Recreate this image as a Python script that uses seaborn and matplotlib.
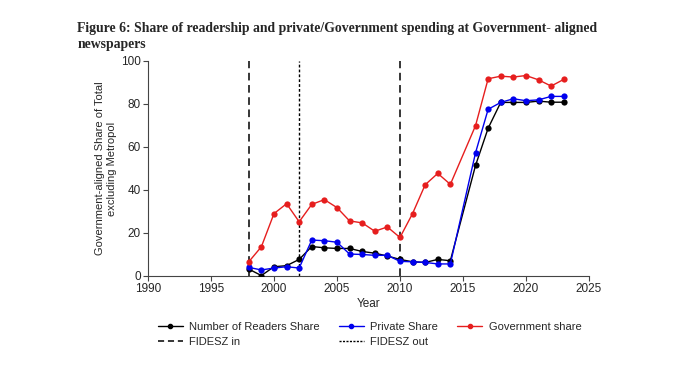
import matplotlib
matplotlib.use("Agg")
import matplotlib.pyplot as plt
from matplotlib.lines import Line2D
import seaborn as sns
import pandas as pd

# =============================================================================
# data (read off the figure; no 2015 observation)
# =============================================================================
years = [1998, 1999, 2000, 2001, 2002, 2003, 2004, 2005, 2006, 2007, 2008,
         2009, 2010, 2011, 2012, 2013, 2014, 2016, 2017, 2018, 2019, 2020,
         2021, 2022, 2023]
readers_share = [3.2, 0.2, 4.3, 4.8, 7.7, 13.7, 13.1, 12.8, 12.8, 11.4, 10.6,
                 9.3, 7.7, 6.6, 6.3, 7.7, 7.1, 51.4, 68.7, 80.7, 80.7, 80.7,
                 81.3, 80.8, 80.8]
private_share = [4.0, 2.8, 3.7, 4.3, 3.7, 16.7, 16.4, 15.7, 10.2, 10.0, 9.6,
                 9.6, 6.8, 6.6, 6.3, 5.6, 5.6, 57.3, 77.5, 80.7, 82.4, 81.5,
                 81.9, 83.5, 83.5]
government_share = [6.6, 13.6, 29.0, 33.6, 25.2, 33.3, 35.5, 31.8, 25.6, 24.7,
                     20.8, 22.8, 17.9, 29.0, 42.4, 47.7, 42.6, 69.9, 91.7,
                     92.9, 92.5, 93.2, 91.2, 88.3, 91.4]
fidesz_in = [1998, 2010]
fidesz_out = [2002]

df = pd.DataFrame({
    "Year": years,
    "Number of Readers Share": readers_share,
    "Private Share": private_share,
    "Government share": government_share,
})
long_df = df.melt(id_vars="Year", var_name="series", value_name="share")

# =============================================================================
# plotting
# =============================================================================
sns.set_style("ticks")
plt.rcParams["font.family"] = ["Liberation Sans", "DejaVu Sans"]

colors = {"Number of Readers Share": "black",
          "Private Share": "#0000ee",
          "Government share": "#e61e1e"}

fig = plt.figure(figsize=(6.9, 3.76), dpi=100)
ax = fig.add_axes([0.2145, 0.266, 0.639, 0.572])

for yr in fidesz_in:
    ax.axvline(yr, color="black", lw=1.1, ls=(0, (5, 3)), zorder=1)
for yr in fidesz_out:
    ax.axvline(yr, color="black", lw=1.0, ls=(0, (2, 1.5)), zorder=1)

sns.lineplot(data=long_df, x="Year", y="share", hue="series", palette=colors,
             marker="o", markersize=4.5, markeredgewidth=0, linewidth=1.0,
             ax=ax, legend=False, zorder=3)

ax.set_xlim(1990, 2025)
ax.set_ylim(0, 100)
ax.set_xticks(range(1990, 2026, 5))
ax.set_yticks(range(0, 101, 20))
ax.tick_params(labelsize=8.5, length=3.5, pad=1.5, color="#444444")
ax.set_xlabel("Year", fontsize=8.5, labelpad=2)
ax.set_ylabel("Government-aligned Share of Total\nexcluding Metropol",
              fontsize=8, labelpad=3)
for side in ["left", "bottom"]:
    ax.spines[side].set_color("#444444")
sns.despine(ax=ax)

fig.text(0.112, 0.915, "Figure 6: Share of readership and private/Government spending at Government- aligned",
         fontsize=9.9, fontweight="bold", family="Liberation Serif", ha="left", va="baseline")
fig.text(0.112, 0.873, "newspapers",
         fontsize=9.9, fontweight="bold", family="Liberation Serif", ha="left", va="baseline")

handles = [
    Line2D([], [], color="black", marker="o", markersize=3, lw=1, label="Number of Readers Share"),
    Line2D([], [], color="black", lw=1.1, ls=(0, (4, 2.5)), label="FIDESZ in"),
    Line2D([], [], color=colors["Private Share"], marker="o", markersize=3, lw=1, label="Private Share"),
    Line2D([], [], color="black", lw=1.0, ls=(0, (1.5, 1)), label="FIDESZ out"),
    Line2D([], [], color=colors["Government share"], marker="o", markersize=3, lw=1, label="Government share"),
]
fig.legend(handles=handles, ncol=3, loc="upper left", bbox_to_anchor=(0.222, 0.155),
           frameon=False, fontsize=8, handlelength=2.25, columnspacing=1.7,
           labelspacing=0.45, handletextpad=0.6, borderaxespad=0)

plt.savefig("out.png", dpi=100)
